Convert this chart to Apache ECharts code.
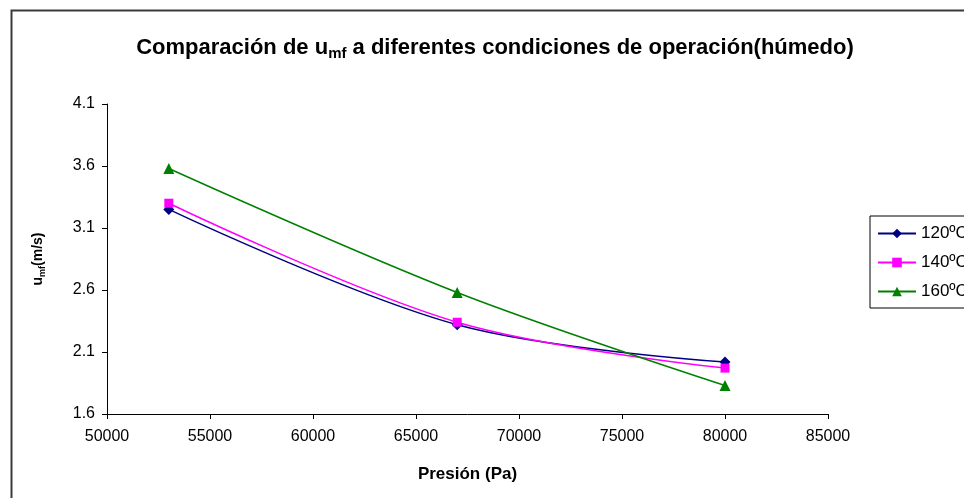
<!DOCTYPE html>
<html>
<head>
<meta charset="utf-8">
<script src="https://cdn.jsdelivr.net/npm/echarts@6/dist/echarts.min.js"></script>
<style>
  html, body { margin: 0; padding: 0; background: #fff; }
  #chart { width: 964px; height: 498px; }
</style>
</head>
<body>
<div id="chart"></div>
<script>
// Pressure (Pa) at which the minimum fluidisation velocity was measured
const presion = [53000, 67000, 80000];
// u_mf (m/s) for each drying temperature
const serie120 = [3.25, 2.32, 2.02];
const serie140 = [3.30, 2.34, 1.97];
const serie160 = [3.58, 2.58, 1.83];
const nombres = ['120ºC', '140ºC', '160ºC'];

const FONT = '"Liberation Sans", Arial, sans-serif';

function pares(ys) {
  return presion.map((x, i) => [x, ys[i]]);
}

const chart = echarts.init(document.getElementById('chart'));

chart.setOption({
  backgroundColor: '#ffffff',
  animation: false,
  graphic: [{
    type: 'rect',
    left: 9, top: 8,
    shape: { width: 1000, height: 600 },
    style: { fill: 'none', stroke: '#3a3a3a', lineWidth: 2 },
    silent: true
  }],
  title: {
    text: '{b|Comparación de u}{s|mf}{b| a diferentes condiciones de operación(húmedo)}',
    left: 490, top: 30, textAlign: 'center',
    textStyle: {
      rich: {
        b: { fontFamily: FONT, fontWeight: 'bold', fontSize: 22, color: '#000', letterSpacing: -0.3 },
        s: { fontFamily: FONT, fontWeight: 'bold', fontSize: 15, color: '#000', padding: [11, 0, 0, 0] }
      }
    }
  },
  legend: {
    left: 870, top: 216,
    orient: 'vertical',
    data: nombres,
    itemWidth: 38, itemHeight: 12, itemGap: 12,
    padding: [9, 60, 8, 7],
    borderColor: '#000', borderWidth: 1,
    textStyle: { fontFamily: FONT, fontSize: 17, color: '#000', letterSpacing: -0.6 }
  },
  grid: { left: 107, top: 104, right: 136, bottom: 84 },
  xAxis: {
    type: 'value',
    min: 50000, max: 85000, interval: 5000,
    name: 'Presión (Pa)',
    nameLocation: 'middle', nameGap: 52,
    nameTextStyle: { fontFamily: FONT, fontWeight: 'bold', fontSize: 17, color: '#000', letterSpacing: -0.3 },
    axisLine: { lineStyle: { color: '#000', width: 1 } },
    axisTick: { length: 5, lineStyle: { color: '#000' } },
    axisLabel: {
      fontFamily: FONT, fontSize: 16, color: '#000', margin: 15, letterSpacing: -0.6,
      formatter: v => String(v)
    },
    splitLine: { show: false }
  },
  yAxis: {
    type: 'value',
    min: 1.6, max: 4.1, interval: 0.5,
    name: '{b|u}{s|mf}{b|(m/s)}',
    nameLocation: 'middle', nameGap: 60, nameRotate: 90,
    nameTextStyle: {
      rich: {
        b: { fontFamily: FONT, fontWeight: 'bold', fontSize: 14, color: '#000' },
        s: { fontFamily: FONT, fontWeight: 'bold', fontSize: 9, color: '#000', padding: [8, 0, 0, 0] }
      }
    },
    axisLine: { show: true, lineStyle: { color: '#000', width: 1 } },
    axisTick: { show: true, length: 5, lineStyle: { color: '#000' } },
    axisLabel: { fontFamily: FONT, fontSize: 16, color: '#000', margin: 12, letterSpacing: -0.6, formatter: v => v.toFixed(1) },
    splitLine: { show: false }
  },
  series: [
    {
      name: nombres[0], type: 'line', data: pares(serie120), smooth: 0.35,
      symbol: 'diamond', symbolSize: 11,
      lineStyle: { color: '#000080', width: 1.5 },
      itemStyle: { color: '#000080' }
    },
    {
      name: nombres[1], type: 'line', data: pares(serie140), smooth: 0.35,
      symbol: 'rect', symbolSize: 9,
      lineStyle: { color: '#ff00ff', width: 1.5 },
      itemStyle: { color: '#ff00ff' }
    },
    {
      name: nombres[2], type: 'line', data: pares(serie160), smooth: 0.35,
      symbol: 'triangle', symbolSize: 11,
      lineStyle: { color: '#008000', width: 1.5 },
      itemStyle: { color: '#008000' }
    }
  ]
});
</script>
</body>
</html>
